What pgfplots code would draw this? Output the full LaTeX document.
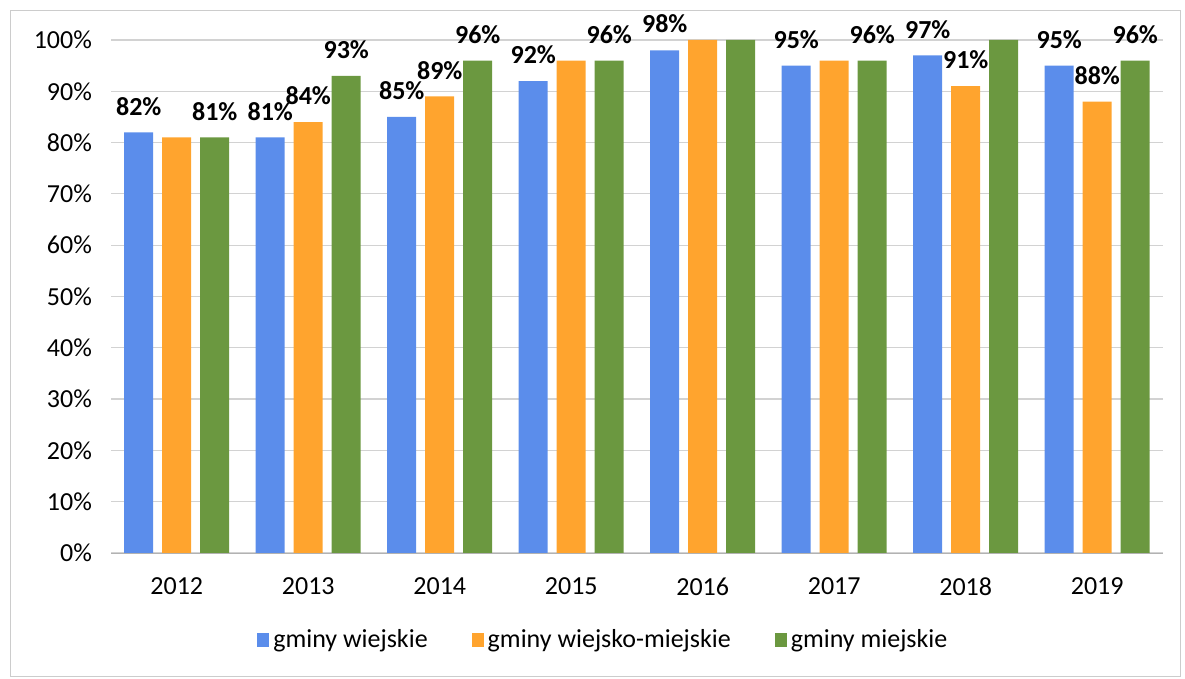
\documentclass[border=0pt]{standalone}
\usepackage{pgfplots}
\pgfplotsset{compat=1.18}
\usepackage{pgfplotstable}
\usepackage{fontspec}
\setmainfont{Carlito}
\usetikzlibrary{calc}
\definecolor{gwblue}{RGB}{91,141,235}
\definecolor{gworange}{RGB}{255,164,46}
\definecolor{gwgreen}{RGB}{107,152,64}

% x: 0 = 2012 ... 7 = 2019; lab: data label shown on the chart ({} = none)
\pgfplotstableread{
x val lab
0 82 82\%
1 81 81\%
2 85 85\%
3 92 92\%
4 98 98\%
5 95 95\%
6 97 97\%
7 95 95\%
}\wiejskie
\pgfplotstableread{
x val lab
0 81 {}
1 84 84\%
2 89 89\%
3 96 {}
4 100 {}
5 96 {}
6 91 91\%
7 88 88\%
}\mieszane
\pgfplotstableread{
x val lab
0 81 81\%
1 93 93\%
2 96 96\%
3 96 96\%
4 100 {}
5 96 96\%
6 100 {}
7 96 96\%
}\miejskie

\begin{document}
\begin{tikzpicture}[font=\fontsize{13}{15}\selectfont]
\begin{axis}[
  name=ax,
  scale only axis,
  width=526pt, height=256.5pt,
  ybar, bar width=14.5pt,
  ymin=0, ymax=100,
  xmin=-0.5, xmax=7.5,
  xtick=data,
  xticklabels={2012,2013,2014,2015,2016,2017,2018,2019},
  ytick={0,10,...,100},
  yticklabel={\pgfmathprintnumber{\tick}\%},
  /pgf/number format/assume math mode=true,
  major tick length=0pt,
  xticklabel style={yshift=-9pt},
  yticklabel style={xshift=-6pt},
  axis x line*=bottom,
  axis y line*=left,
  x axis line style={draw=gray!60, -},
  y axis line style={draw=none},
  ymajorgrids=true,
  grid style={gray!35, line width=0.6pt},
  clip=false,
  nodes near coords,
  point meta=explicit symbolic,
  every node near coord/.append style={font=\fontsize{13}{15}\selectfont\bfseries, yshift=5pt},
  legend style={
    at={(0.469,-0.17)}, anchor=center,
    draw=none, legend columns=3,
    /tikz/every even column/.append style={column sep=20pt},
  },
  legend image code/.code={\fill[#1] (0pt,-3.5pt) rectangle (6pt,3.5pt);},
]
\addplot[fill=gwblue, draw=none, bar shift=-19pt] table[x=x, y=val, meta=lab] {\wiejskie};
\addplot[fill=gworange, draw=none, bar shift=0pt] table[x=x, y=val, meta=lab] {\mieszane};
\addplot[fill=gwgreen, draw=none, bar shift=19pt] table[x=x, y=val, meta=lab] {\miejskie};
\legend{gminy wiejskie, gminy wiejsko-miejskie, gminy miejskie}
\end{axis}
\draw[gray!40] ($(ax.south west)+(-50.5pt,-61.5pt)$) rectangle ++(585pt,333pt);
\path[use as bounding box] ($(ax.south west)+(-55.5pt,-63pt)$) rectangle ++(592.5pt,339.5pt);
\end{tikzpicture}
\end{document}
